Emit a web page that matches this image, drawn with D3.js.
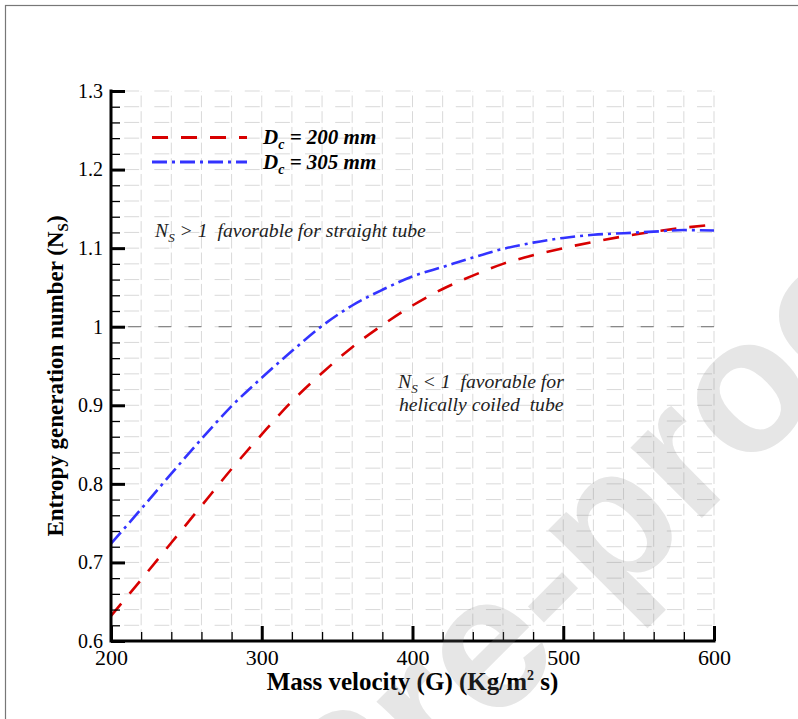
<!DOCTYPE html>
<html lang="en">
<head>
    <meta charset="UTF-8">
    <title>Entropy generation number</title>
    <script src="https://cdn.jsdelivr.net/npm/d3@7"></script>
    <style>
        body { margin: 0; background: #fff; }
    </style>
</head>
<body>
<div id="container"></div>
<script>
    // mass velocity G (Kg/m2 s)
    const massVelocity = [200, 220, 240, 260, 280, 300, 320, 340, 360, 380, 400,
                          420, 440, 460, 480, 500, 520, 540, 560, 580, 600];
    // Dc = 200 mm
    const ns200 = [0.632, 0.678, 0.725, 0.772, 0.819, 0.863, 0.905, 0.941, 0.974, 1.002, 1.027,
                   1.048, 1.065, 1.080, 1.091, 1.100, 1.108, 1.115, 1.121, 1.126, 1.130];
    // Dc = 305 mm
    const ns305 = [0.724, 0.768, 0.813, 0.857, 0.899, 0.935, 0.969, 1.001, 1.027, 1.047, 1.064,
                   1.076, 1.088, 1.099, 1.107, 1.113, 1.117, 1.119, 1.121, 1.123, 1.1225];
    const seriesNames = ['200 mm', '305 mm'];
    const xTicks = [200, 300, 400, 500, 600];
    const yTicks = [0.6, 0.7, 0.8, 0.9, 1.0, 1.1, 1.2, 1.3];

    const w = 798, h = 719;
    const pLeft = 111, pRight = 714, pTop = 91, pBottom = 641;
    const serif = '"Liberation Serif", "Times New Roman", Times, serif';

    const svg = d3.select('#container').append('svg')
        .attr('width', w).attr('height', h);

    // page frame
    svg.append('rect')
        .attr('x', 5.5).attr('y', 5.5).attr('width', 820).attr('height', 760)
        .attr('fill', 'none').attr('stroke', '#777').attr('stroke-width', 1.2);

    const x = d3.scaleLinear().domain([200, 600]).range([pLeft, pRight]);
    const y = d3.scaleLinear().domain([0.6, 1.3]).range([pBottom, pTop]);

    const xMinor = d3.range(220, 601, 20);
    const yMinor = d3.range(31, 66).map(k => k / 50);   // 0.62 .. 1.30

    // grid
    const grid = svg.append('g').attr('stroke', '#d9d9d9').attr('stroke-width', 1).attr('fill', 'none');
    grid.selectAll('.hg').data(yMinor).enter().append('line')
        .attr('x1', pLeft).attr('x2', pRight)
        .attr('y1', d => y(d)).attr('y2', d => y(d))
        .attr('stroke-dasharray', '15,15.15')
        .attr('stroke-dashoffset', 17);
    grid.selectAll('.vg').data(xMinor).enter().append('line')
        .attr('x1', d => x(d)).attr('x2', d => x(d))
        .attr('y1', pBottom).attr('y2', pTop)
        .attr('stroke-dasharray', '11.7,4');

    // N_S = 1 line
    svg.append('line')
        .attr('x1', x(200)).attr('x2', x(600))
        .attr('y1', y(1)).attr('y2', y(1))
        .attr('stroke', '#888').attr('stroke-width', 1.3)
        .attr('stroke-dasharray', '13,17.15').attr('stroke-dashoffset', 13);

    // curves
    const line = d3.line()
        .x((d, i) => x(massVelocity[i]))
        .y(d => y(d))
        .curve(d3.curveMonotoneX);

    const styles = [
        {data: ns200, color: '#d80000', dash: '16,13'},
        {data: ns305, color: '#3333ff', dash: '15,5,3,5'}
    ];
    styles.forEach(s => {
        svg.append('path')
            .attr('d', line(s.data))
            .attr('fill', 'none')
            .attr('stroke', s.color)
            .attr('stroke-width', 2.6)
            .attr('stroke-dasharray', s.dash);
    });

    // axes
    function styleAxis(g, width) {
        g.select('.domain').remove();
        g.selectAll('.tick line').attr('stroke', '#000').attr('stroke-width', width);
    }

    const yMinorAxis = d3.axisLeft(y).tickValues(yMinor.filter(v => Math.round(v * 50) % 5 !== 0))
        .tickSize(-9).tickFormat('');
    svg.append('g').attr('transform', `translate(${pLeft},0)`).call(yMinorAxis).call(g => styleAxis(g, 1.3));

    const xMinorAxis = d3.axisBottom(x).tickValues(xMinor.filter(v => v % 100 !== 0))
        .tickSize(-9).tickFormat('');
    svg.append('g').attr('transform', `translate(0,${pBottom})`).call(xMinorAxis).call(g => styleAxis(g, 1.3));

    const yAxis = d3.axisLeft(y).tickValues(yTicks).tickSize(-14).tickPadding(8)
        .tickFormat(d => d === 1 ? '1' : d3.format('.1f')(d));
    svg.append('g').attr('transform', `translate(${pLeft},0)`).call(yAxis)
        .attr('font-family', serif).attr('font-size', 20)
        .call(g => styleAxis(g, 3))
        .selectAll('text').style('font-family', serif).style('font-size', '20px').attr('fill', '#000');

    const xAxis = d3.axisBottom(x).tickValues(xTicks).tickSize(-15).tickPadding(8)
        .tickFormat(d3.format('d'));
    svg.append('g').attr('transform', `translate(0,${pBottom})`).call(xAxis)
        .attr('font-family', serif).attr('font-size', 22)
        .call(g => styleAxis(g, 3))
        .selectAll('text').style('font-family', serif).style('font-size', '22px').attr('fill', '#000');

    // axis lines
    svg.append('path')
        .attr('d', `M${pLeft},${pTop - 1.5}V${pBottom}H${pRight + 1.5}`)
        .attr('fill', 'none').attr('stroke', '#000').attr('stroke-width', 3);

    // axis titles
    const xt = svg.append('text')
        .attr('x', (pLeft + pRight) / 2).attr('y', 690)
        .attr('text-anchor', 'middle')
        .style('font-family', serif).style('font-weight', 'bold').style('font-size', '25px');
    xt.append('tspan').text('Mass velocity (G) (Kg/m');
    xt.append('tspan').attr('dy', -10).style('font-size', '14px').text('2');
    xt.append('tspan').attr('dy', 10).text(' s)');

    const yt = svg.append('text')
        .attr('transform', 'translate(63,376) rotate(-90)')
        .attr('text-anchor', 'middle')
        .style('font-family', serif).style('font-weight', 'bold').style('font-size', '23px');
    yt.append('tspan').text('Entropy generation number (N');
    yt.append('tspan').attr('dy', 5).style('font-size', '15px').text('S');
    yt.append('tspan').attr('dy', -5).text(')');

    // legend
    const legend = svg.append('g');
    styles.forEach((s, i) => {
        const ly = 137.5 + i * 24.5;
        legend.append('line')
            .attr('x1', 152).attr('x2', 247).attr('y1', ly).attr('y2', ly)
            .attr('stroke', s.color).attr('stroke-width', 3)
            .attr('stroke-dasharray', s.dash);
        const t = legend.append('text')
            .attr('x', 263).attr('y', ly + 6.5)
            .style('font-family', serif).style('font-weight', 'bold')
            .style('font-style', 'italic').style('font-size', '21px');
        t.append('tspan').text('D');
        t.append('tspan').attr('dy', 5).style('font-size', '14px').text('c');
        t.append('tspan').attr('dy', -5).text(' = ' + seriesNames[i]);
    });

    // notes
    function noteText(xp, yp) {
        return svg.append('text').attr('x', xp).attr('y', yp)
            .style('font-family', serif).style('font-style', 'italic')
            .style('font-size', '19.7px').attr('fill', '#222');
    }
    function note(xp, yp, parts) {
        const t = noteText(xp, yp);
        t.append('tspan').text('N');
        t.append('tspan').attr('dy', 5).style('font-size', '13px').text('S');
        t.append('tspan').attr('dy', -5).text(parts);
    }
    note(155, 237, ' > 1\u00a0 favorable for straight tube');
    note(398, 388, ' < 1\u00a0 favorable for');
    noteText(399, 411).text('helically coiled\u00a0 tube');

    // watermark
    svg.append('text')
        .attr('transform', 'translate(390,830) rotate(-45)')
        .attr('text-anchor', 'middle')
        .style('font-family', '"Liberation Sans", Arial, sans-serif')
        .style('font-weight', 'bold')
        .style('font-size', '190px')
        .attr('fill', '#808080').attr('fill-opacity', 0.2)
        .text('Journal Pre-proof');
</script>
</body>
</html>
